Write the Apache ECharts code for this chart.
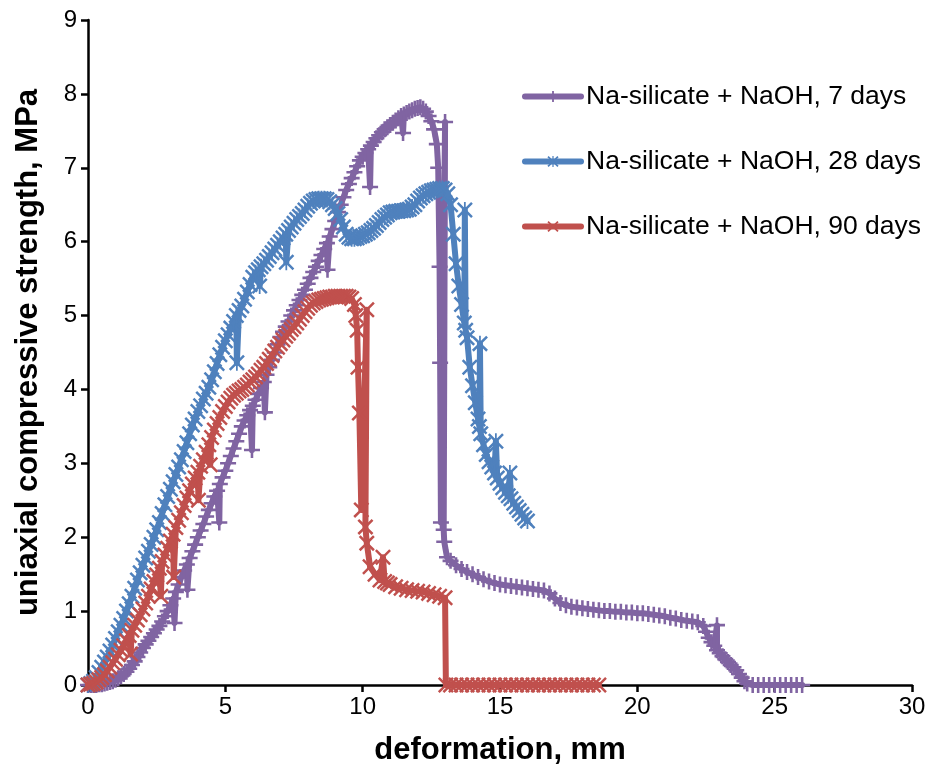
<!DOCTYPE html>
<html><head><meta charset="utf-8">
<script src="https://cdn.jsdelivr.net/npm/echarts@6/dist/echarts.min.js"></script>
<style>html,body{margin:0;padding:0;background:#fff}#c{width:932px;height:773px}</style>
</head><body><div id="c"></div>
<script>
const seriesNames = ['Na-silicate + NaOH, 7 days', 'Na-silicate + NaOH, 28 days', 'Na-silicate + NaOH, 90 days'];
const xAxisTitle = 'deformation, mm';
const yAxisTitle = 'uniaxial compressive strength, MPa';

const days7 = [
[0,0],[0.1,0],[0.2,0],[0.3,0],[0.4,0.01],[0.5,0.01],[0.6,0.02],[0.7,0.03],[0.8,0.04],[0.9,0.05],
[1.0,0.07],[1.1,0.09],[1.2,0.12],[1.3,0.15],[1.4,0.18],[1.5,0.22],[1.6,0.27],[1.7,0.32],[1.8,0.38],[1.9,0.44],
[2.0,0.5],[2.1,0.55],[2.2,0.6],[2.3,0.65],[2.4,0.7],[2.5,0.75],[2.6,0.8],[2.7,0.86],[2.8,0.93],[2.9,1.0],
[3.0,1.08],[3.1,1.17],[3.15,0.84],[3.2,1.26],[3.3,1.36],[3.4,1.46],[3.5,1.55],[3.6,1.63],[3.62,1.29],[3.7,1.72],[3.8,1.81],[3.9,1.9],
[4.0,2.0],[4.1,2.09],[4.2,2.18],[4.3,2.28],[4.4,2.37],[4.5,2.46],[4.6,2.55],[4.7,2.63],[4.78,2.2],[4.8,2.72],[4.9,2.81],
[5.0,2.9],[5.1,3.0],[5.2,3.1],[5.3,3.2],[5.4,3.3],[5.5,3.4],[5.6,3.5],[5.7,3.58],[5.8,3.65],[5.9,3.72],[5.97,3.18],
[6.0,3.78],[6.1,3.86],[6.2,3.94],[6.3,4.02],[6.4,4.1],[6.44,3.69],[6.5,4.2],[6.6,4.3],[6.7,4.4],[6.8,4.5],[6.9,4.61],
[7.0,4.71],[7.1,4.78],[7.2,4.85],[7.3,4.92],[7.4,5.0],[7.5,5.07],[7.6,5.14],[7.7,5.21],[7.8,5.28],[7.9,5.35],
[8.0,5.43],[8.1,5.51],[8.2,5.59],[8.3,5.66],[8.4,5.74],[8.5,5.82],[8.6,5.9],[8.7,5.98],[8.72,5.62],[8.8,6.07],[8.9,6.17],
[9.0,6.28],[9.1,6.4],[9.2,6.5],[9.3,6.6],[9.4,6.7],[9.5,6.78],[9.6,6.86],[9.7,6.94],[9.8,7.02],[9.9,7.1],
[10.0,7.15],[10.1,7.2],[10.2,7.25],[10.27,6.74],[10.3,7.3],[10.4,7.35],[10.5,7.4],[10.6,7.44],[10.7,7.48],[10.8,7.52],[10.9,7.55],
[11.0,7.58],[11.1,7.61],[11.2,7.64],[11.3,7.67],[11.4,7.7],[11.47,7.47],[11.5,7.72],[11.6,7.74],[11.7,7.76],[11.8,7.78],[11.9,7.8],
[12.0,7.81],[12.1,7.82],[12.2,7.8],[12.3,7.76],[12.4,7.7],[12.5,7.63],[12.6,7.52],[12.7,7.32],[12.75,7.0],
[12.8,5.66],[12.82,4.36],[12.85,2.2],[13.0,7.62],[12.95,2.1],[12.97,1.94],[13.07,1.73],
[13.2,1.68],[13.4,1.62],[13.6,1.57],[13.8,1.53],[14.0,1.5],[14.2,1.46],[14.4,1.43],[14.6,1.4],[14.8,1.38],
[15.0,1.36],[15.2,1.35],[15.4,1.34],[15.6,1.33],[15.8,1.32],[16.0,1.31],[16.2,1.3],[16.4,1.29],[16.6,1.28],[16.8,1.24],
[17.0,1.17],[17.2,1.11],[17.4,1.08],[17.6,1.06],[17.8,1.05],[18.0,1.04],[18.2,1.03],[18.4,1.02],[18.6,1.01],[18.8,1.0],
[19.0,1.0],[19.2,0.99],[19.4,0.99],[19.6,0.98],[19.8,0.98],[20.0,0.97],[20.2,0.97],[20.4,0.96],[20.6,0.95],[20.8,0.94],
[21.0,0.93],[21.2,0.91],[21.4,0.9],[21.6,0.88],[21.8,0.87],[22.0,0.86],[22.2,0.85],[22.4,0.8],[22.5,0.72],[22.6,0.64],
[22.7,0.58],[22.8,0.53],[22.9,0.81],[22.9,0.47],[23.0,0.43],[23.1,0.39],[23.2,0.35],[23.3,0.31],[23.4,0.27],[23.5,0.24],
[23.6,0.2],[23.7,0.15],[23.8,0.1],[23.9,0.05],[24.0,0.02],[24.2,0],[24.4,0],[24.6,0],[24.8,0],[25.0,0],
[25.2,0],[25.4,0],[25.6,0],[25.8,0],[26.0,0]
];

const days28 = [
[0,0],[0.1,0.02],[0.2,0.05],[0.3,0.1],[0.4,0.17],[0.5,0.24],[0.6,0.31],[0.7,0.38],[0.8,0.46],[0.9,0.54],
[1.0,0.63],[1.1,0.72],[1.2,0.81],[1.3,0.9],[1.4,1.0],[1.5,1.1],[1.6,1.2],[1.7,1.31],[1.8,1.42],[1.9,1.52],
[2.0,1.62],[2.1,1.72],[2.2,1.81],[2.3,1.9],[2.4,2.0],[2.5,2.1],[2.6,2.2],[2.7,2.32],[2.8,2.44],[2.9,2.55],
[3.0,2.65],[3.1,2.75],[3.2,2.85],[3.3,2.95],[3.4,3.05],[3.5,3.16],[3.6,3.28],[3.7,3.4],[3.8,3.52],[3.9,3.6],
[4.0,3.7],[4.1,3.78],[4.2,3.87],[4.3,3.95],[4.4,4.03],[4.5,4.13],[4.6,4.24],[4.7,4.35],[4.8,4.47],[4.9,4.57],
[5.0,4.66],[5.1,4.74],[5.2,4.83],[5.3,4.92],[5.4,5.0],[5.42,4.36],[5.5,5.07],[5.6,5.13],[5.7,5.22],[5.8,5.32],[5.9,5.42],
[6.0,5.52],[6.1,5.58],[6.2,5.62],[6.25,5.4],[6.3,5.66],[6.4,5.7],[6.5,5.75],[6.6,5.8],[6.7,5.85],[6.8,5.9],[6.9,5.95],
[7.0,6.0],[7.1,6.05],[7.2,6.1],[7.22,5.72],[7.3,6.15],[7.4,6.2],[7.5,6.25],[7.6,6.3],[7.7,6.34],[7.8,6.38],[7.9,6.43],
[8.0,6.48],[8.1,6.52],[8.2,6.55],[8.3,6.57],[8.4,6.58],[8.5,6.58],[8.6,6.58],[8.7,6.57],[8.8,6.54],[8.9,6.5],
[9.0,6.45],[9.1,6.38],[9.2,6.3],[9.3,6.2],[9.4,6.1],[9.5,6.06],[9.6,6.04],[9.7,6.04],[9.8,6.05],[9.9,6.07],
[10.0,6.08],[10.1,6.1],[10.2,6.12],[10.3,6.15],[10.4,6.18],[10.5,6.22],[10.6,6.26],[10.7,6.3],[10.8,6.33],[10.9,6.36],
[11.0,6.39],[11.1,6.4],[11.2,6.41],[11.3,6.41],[11.4,6.42],[11.5,6.42],[11.6,6.43],[11.7,6.44],[11.8,6.47],[11.9,6.5],
[12.0,6.55],[12.1,6.59],[12.2,6.62],[12.3,6.65],[12.4,6.67],[12.5,6.69],[12.6,6.7],[12.7,6.71],[12.8,6.72],[12.9,6.72],
[13.0,6.7],[13.1,6.65],[13.2,6.5],[13.3,6.1],[13.4,5.7],[13.5,5.4],[13.6,5.15],[13.7,4.9],[13.72,6.43],[13.75,4.8],
[13.8,4.7],[13.9,4.3],[14.0,4.05],[14.1,3.82],[14.2,3.6],[14.25,3.5],[14.27,4.62],[14.3,3.4],[14.4,3.25],[14.5,3.12],
[14.6,3.02],[14.7,2.95],[14.8,2.87],[14.85,3.3],[14.9,2.8],[15.0,2.73],[15.1,2.67],[15.2,2.61],[15.3,2.56],[15.36,2.87],
[15.4,2.52],[15.5,2.46],[15.6,2.41],[15.7,2.36],[15.8,2.31],[15.9,2.26],[16.0,2.22]
];

const days90 = [
[0,0],[0.1,0.01],[0.2,0.02],[0.3,0.04],[0.4,0.07],[0.5,0.1],[0.6,0.14],[0.7,0.19],[0.8,0.24],[0.9,0.3],
[1.0,0.35],[1.1,0.41],[1.2,0.47],[1.3,0.53],[1.4,0.6],[1.5,0.67],[1.55,0.42],[1.6,0.74],[1.7,0.81],[1.8,0.88],[1.9,0.95],
[2.0,1.03],[2.1,1.11],[2.2,1.2],[2.3,1.3],[2.4,1.4],[2.5,1.49],[2.6,1.58],[2.65,1.2],[2.7,1.67],[2.8,1.76],[2.9,1.85],
[3.0,1.95],[3.1,2.04],[3.12,1.46],[3.2,2.13],[3.3,2.23],[3.4,2.33],[3.5,2.43],[3.6,2.53],[3.7,2.63],[3.8,2.72],[3.9,2.8],
[4.0,2.88],[4.02,2.5],[4.1,2.96],[4.2,3.05],[4.3,3.15],[4.4,3.25],[4.45,2.98],[4.5,3.35],[4.6,3.45],[4.7,3.54],[4.8,3.62],[4.9,3.7],
[5.0,3.77],[5.1,3.83],[5.2,3.88],[5.3,3.92],[5.4,3.95],[5.5,3.98],[5.6,4.0],[5.7,4.03],[5.8,4.06],[5.9,4.1],
[6.0,4.13],[6.1,4.17],[6.2,4.21],[6.3,4.26],[6.4,4.3],[6.5,4.35],[6.6,4.41],[6.7,4.46],[6.8,4.52],[6.9,4.57],
[7.0,4.62],[7.1,4.67],[7.2,4.72],[7.3,4.76],[7.4,4.81],[7.5,4.85],[7.6,4.9],[7.7,4.95],[7.8,5.0],[7.9,5.05],
[8.0,5.1],[8.1,5.14],[8.2,5.17],[8.3,5.19],[8.4,5.21],[8.5,5.22],[8.6,5.23],[8.7,5.24],[8.8,5.25],[8.9,5.25],
[9.0,5.26],[9.1,5.26],[9.2,5.26],[9.3,5.26],[9.4,5.26],[9.5,5.25],[9.6,5.23],[9.7,5.15],[9.75,5.0],[9.8,4.8],
[9.83,4.3],[9.88,3.68],[9.95,2.37],[10.15,5.08],[10.1,2.14],[10.15,1.92],[10.27,1.6],[10.45,1.5],[10.63,1.42],[10.74,1.73],
[10.8,1.4],[10.9,1.38],[11.0,1.36],[11.2,1.33],[11.4,1.31],[11.6,1.29],[11.8,1.28],[12.0,1.27],[12.2,1.26],[12.4,1.24],
[12.6,1.22],[12.8,1.2],[13.0,1.18],[13.03,0],[13.2,0],[13.4,0],[13.6,0],[13.8,0],[14.0,0],[14.2,0],
[14.4,0],[14.6,0],[14.8,0],[15.0,0],[15.2,0],[15.4,0],[15.6,0],[15.8,0],[16.0,0],[16.2,0],
[16.4,0],[16.6,0],[16.8,0],[17.0,0],[17.2,0],[17.4,0],[17.6,0],[17.8,0],[18.0,0],[18.2,0],
[18.4,0],[18.6,0]
];

const colors = ['#8064A2', '#4F81BD', '#C0504D'];
const PLUS = 'path://M4.2,0H5.8V4.2H10V5.8H5.8V10H4.2V5.8H0V4.2H4.2Z';
const CROSS = 'path://M1.1,0L5,3.9L8.9,0L10,1.1L6.1,5L10,8.9L8.9,10L5,6.1L1.1,10L0,8.9L3.9,5L0,1.1Z';
const STAR = 'path://M1.1,0L5,3.9L8.9,0L10,1.1L6.1,5L10,8.9L8.9,10L5,6.1L1.1,10L0,8.9L3.9,5L0,1.1Z M4.45,0H5.55V10H4.45Z';
const symbols = [PLUS, STAR, CROSS];
const dataSets = [days7, days28, days90];
const FONT = 'Liberation Sans, Arial, sans-serif';

const chart = echarts.init(document.getElementById('c'), null, {renderer: 'canvas'});
chart.setOption({
  animation: false,
  backgroundColor: '#fff',
  grid: {left: 88, right: 20, top: 20, bottom: 88},
  legend: {
    orient: 'vertical', left: 517, top: 78, itemWidth: 56, itemHeight: 14, itemGap: 38,
    lineStyle: {width: 6, cap: 'round'},
    textStyle: {fontSize: 26.5, fontFamily: FONT, color: '#000'},
    data: seriesNames
  },
  xAxis: {
    type: 'value', min: 0, max: 30, interval: 5,
    axisLine: {show: true, onZero: false, lineStyle: {color: '#000', width: 2.5}},
    axisTick: {show: true, length: 7, lineStyle: {color: '#000', width: 2.5}},
    splitLine: {show: false},
    axisLabel: {fontSize: 24, color: '#000', margin: 10, fontFamily: FONT},
    name: xAxisTitle, nameLocation: 'middle', nameGap: 50,
    nameTextStyle: {fontSize: 31, fontWeight: 'bold', color: '#000', fontFamily: FONT}
  },
  yAxis: {
    type: 'value', min: 0, max: 9, interval: 1,
    axisLine: {show: true, onZero: false, lineStyle: {color: '#000', width: 2.5}},
    axisTick: {show: true, length: 7, lineStyle: {color: '#000', width: 2.5}},
    splitLine: {show: false},
    axisLabel: {fontSize: 24, color: '#000', margin: 11, fontFamily: FONT},
    name: yAxisTitle, nameLocation: 'middle', nameGap: 44,
    nameTextStyle: {fontSize: 31, fontWeight: 'bold', color: '#000', fontFamily: FONT}
  },
  series: seriesNames.map((n, i) => ({
    name: n, type: 'line', data: dataSets[i],
    symbol: symbols[i], symbolSize: 16, showSymbol: true, showAllSymbol: true,
    lineStyle: {width: 6, color: colors[i], cap: 'round', join: 'round'},
    itemStyle: {color: colors[i]},
    emphasis: {disabled: true},
    z: 2 + i
  }))
});
</script>
</body></html>
